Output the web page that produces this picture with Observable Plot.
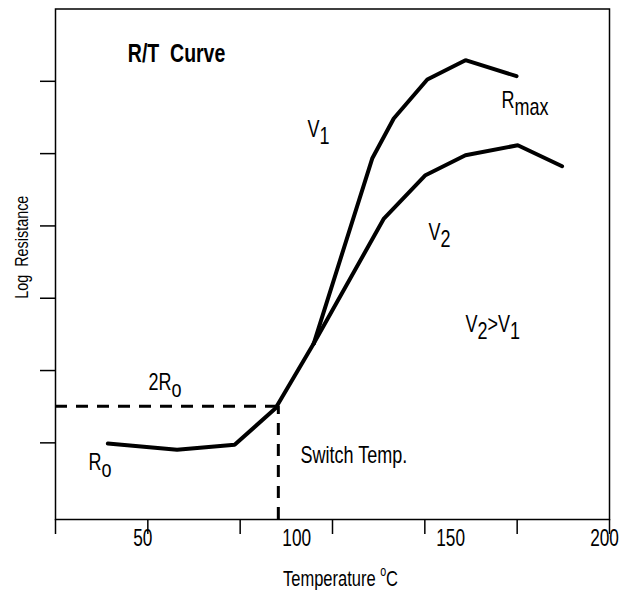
<!DOCTYPE html>
<html>
<head>
<meta charset="utf-8">
<script src="https://cdn.jsdelivr.net/npm/d3@7"></script>
<script src="https://cdn.jsdelivr.net/npm/@observablehq/plot@0.6"></script>
<style>
  html, body { margin: 0; padding: 0; background: white; }
</style>
</head>
<body>
<script>
// ---- data ----
const xTicks = [20, 50, 80, 110, 140, 170, 200];
const xTickLabels = [50, 100, 150, 200];
const yTicks = [1, 2, 3, 4, 5, 6];

// common low-temperature part of the R/T curve
const baseTemp = [37, 59.5, 78.2, 91.5, 103.9];
const baseRes  = [0.99, 0.905, 0.974, 1.478, 2.373];
// branch at voltage V1
const v1Temp = [103.9, 122.9, 129.9, 140.8, 153.2, 169.8];
const v1Res  = [2.373, 4.932, 5.485, 6.025, 6.292, 6.071];
// branch at voltage V2
const v2Temp = [103.9, 126.7, 140.2, 153.2, 170.2, 184.6];
const v2Res  = [2.373, 4.102, 4.701, 4.978, 5.116, 4.826];

const switchTemp = 92.4;
const switchRes = 1.506;

const titleText = "R/T\u00a0 Curve";
const titleTemp = 43.5, titleRes = 6.264;

const noteTexts = ["V_{1}", "R_{max}", "V_{2}", "V_{2}>V_{1}", "2R_{o}", "R_{o}", "Switch Temp."];
const noteTemps = [101.9, 164.9, 141.2, 153.2, 50.2, 30.7, 99.6];
const noteRes   = [5.227, 5.628, 3.802, 2.53, 1.728, 0.621, 0.718];

const xLabel = "Temperature ^{o}C";
const yLabel = "Log\u00a0 Resistance";

// ---- tables ----
const toRows = (T, R) => T.map((t, i) => ({t, r: R[i]}));
const base = toRows(baseTemp, baseRes);
const v1 = toRows(v1Temp, v1Res);
const v2 = toRows(v2Temp, v2Res);
const notes = noteTexts.map((s, i) => ({s, t: noteTemps[i], r: noteRes[i]}));

const font = "'Liberation Sans', Arial, Helvetica, sans-serif";

const chart = Plot.plot({
  width: 619,
  height: 590,
  marginLeft: 55,
  marginRight: 10,
  marginTop: 8.5,
  marginBottom: 71,
  style: {fontFamily: font, fontSize: "20px", background: "white", color: "black"},
  x: {domain: [20, 200], label: null},
  y: {domain: [-0.06, 7], label: null},
  marks: [
    Plot.frame({stroke: "black", strokeWidth: 1.5}),
    Plot.axisX({ticks: xTicks, tickSize: 15, tickFormat: () => "", strokeWidth: 1.5, label: null}),
    Plot.axisX({ticks: xTickLabels, tickSize: 0, tickPadding: 26, fontSize: 23, dx: -5, label: null}),
    Plot.axisY({ticks: yTicks, tickSize: 15, tickFormat: () => "", strokeWidth: 1.5, label: null}),
    Plot.ruleY([switchRes], {x1: 20, x2: switchTemp, strokeWidth: 3, strokeDasharray: "12,9"}),
    Plot.ruleX([switchTemp], {y1: -0.06, y2: switchRes, strokeWidth: 3, strokeDasharray: "12,9"}),
    Plot.line(base, {x: "t", y: "r", strokeWidth: 4, strokeLinejoin: "miter"}),
    Plot.line(v1, {x: "t", y: "r", strokeWidth: 4, strokeLinejoin: "miter"}),
    Plot.line(v2, {x: "t", y: "r", strokeWidth: 4, strokeLinejoin: "miter"}),
    Plot.text([titleText], {x: () => titleTemp, y: () => titleRes, text: d => d, textAnchor: "start", lineAnchor: "bottom", fontWeight: "bold", fontSize: 26}),
    Plot.text(notes, {x: "t", y: "r", text: "s", textAnchor: "start", lineAnchor: "bottom", fontSize: 24}),
    Plot.text([xLabel], {text: d => d, frameAnchor: "bottom", textAnchor: "middle", lineAnchor: "bottom", dy: 66, dx: 8, fontSize: 22}),
    Plot.text([yLabel], {text: d => d, frameAnchor: "left", textAnchor: "middle", lineAnchor: "middle", rotate: -90, dx: -28, dy: -17, fontSize: 18})
  ]
});

// turn _{..} into subscripts and ^{..} into superscripts (real tspans)
function richify(svg) {
  const NS = "http://www.w3.org/2000/svg";
  svg.querySelectorAll("text").forEach(t => {
    const s = t.textContent;
    if (!/[_^]\{/.test(s)) return;
    while (t.firstChild) t.removeChild(t.firstChild);
    const re = /([_^])\{([^}]*)\}|([^_^]+)/g;
    let m, cur = 0;
    while ((m = re.exec(s))) {
      const span = document.createElementNS(NS, "tspan");
      let target = 0, scale = 1, txt = m[3];
      if (m[1] === "_") { target = 0.28; txt = m[2]; }
      else if (m[1] === "^") { target = -0.42; scale = 0.65; txt = m[2]; span.setAttribute("font-size", "0.65em"); }
      const delta = target - cur;
      if (delta !== 0) span.setAttribute("dy", (delta / scale).toFixed(3) + "em");
      cur = target;
      span.textContent = txt;
      t.appendChild(span);
    }
  });
}

// condensed lettering, like the reference's narrow typeface
function condense(svg, k, kFor) {
  svg.querySelectorAll("text").forEach(t => {
    const kk = kFor(t.textContent) ?? k;
    let tr = t.getAttribute("transform") || "";
    if (t.hasAttribute("x") || t.hasAttribute("y")) {
      const x = +t.getAttribute("x") || 0, y = +t.getAttribute("y") || 0;
      t.removeAttribute("x"); t.removeAttribute("y");
      tr += ` translate(${x},${y})`;
    }
    t.setAttribute("transform", (tr + ` scale(${kk},1)`).trim());
  });
}

richify(chart);
condense(chart, 0.75, s => (s === yLabel ? 0.8 : null));
document.body.appendChild(chart);
</script>
</body>
</html>
